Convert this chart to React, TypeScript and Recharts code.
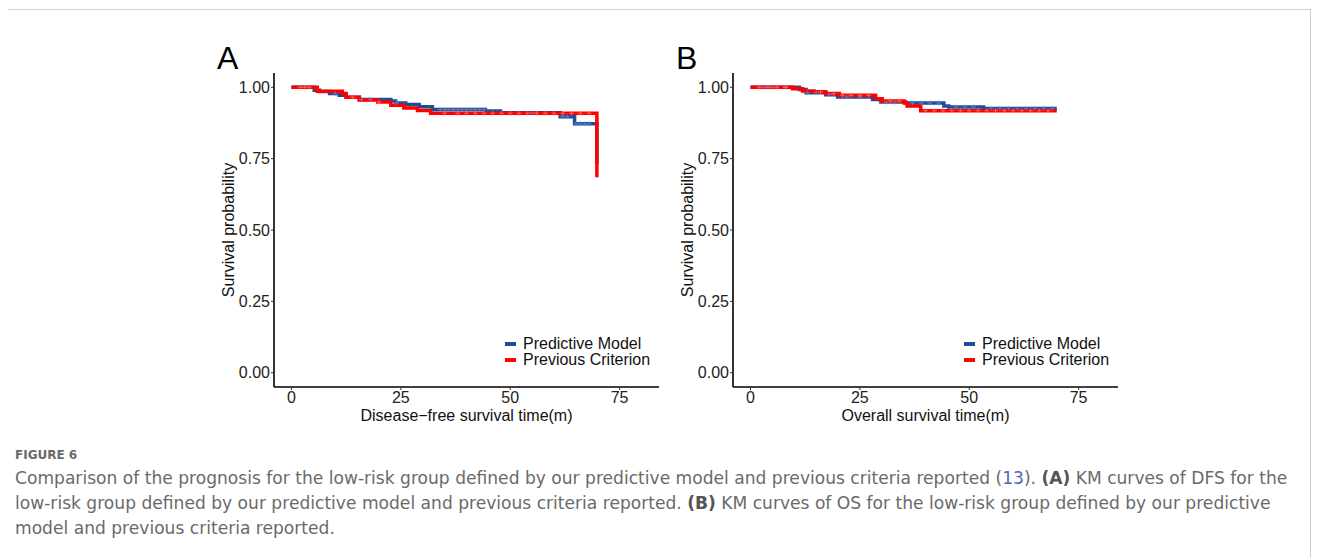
import React from 'react';
import { ComposedChart, Line, Scatter, XAxis, YAxis } from 'recharts';

// Panel A - disease-free survival (months, survival prob)
const dfsModelTime = [0, 5.2, 6.4, 8.7, 10.9, 12.5, 15.5, 22.7, 23.8, 26.1, 29.2, 32.2, 44.3, 47.8, 61.4, 64.7, 69.8];
const dfsModelSurv = [1.0, 0.99, 0.985, 0.978, 0.972, 0.965, 0.957, 0.952, 0.945, 0.94, 0.932, 0.922, 0.917, 0.911, 0.897, 0.872, 0.73];
const dfsPrevTime = [0, 5.9, 11.6, 12.5, 15.5, 19.7, 22.7, 25.7, 28.8, 31.8, 69.8];
const dfsPrevSurv = [1.0, 0.986, 0.978, 0.965, 0.955, 0.948, 0.937, 0.927, 0.919, 0.909, 0.685];
const dfsModelCensor = [10, 16, 18, 24, 34, 35, 36, 37, 38, 39, 40, 41, 42, 43, 44, 55, 62, 63, 65, 66, 67, 68];
const dfsPrevCensor = [2, 3, 4, 14, 20, 35, 38, 40, 42, 44, 46, 48, 50, 52, 54, 56, 58, 60, 62, 64, 66, 68];

// Panel B - overall survival
const osModelTime = [0, 11.2, 12.7, 17.2, 19.9, 27.9, 29.8, 35.5, 44.2, 45.3, 53.3, 70];
const osModelSurv = [1.0, 0.992, 0.981, 0.974, 0.966, 0.957, 0.948, 0.945, 0.934, 0.931, 0.926, 0.926];
const osPrevTime = [0, 9.6, 11.9, 14.5, 17.2, 20.3, 28.6, 30.1, 35.1, 35.8, 38.9, 70];
const osPrevSurv = [1.0, 0.995, 0.987, 0.984, 0.978, 0.972, 0.96, 0.952, 0.945, 0.934, 0.918, 0.918];
const osModelCensor = [3, 5, 8, 13, 15, 18, 22, 25, 31, 33, 37, 39, 41, 43, 47, 49, 51, 55, 57, 59, 61, 63, 65, 67, 69];
const osPrevCensor = [2, 4, 6, 8, 16, 19, 21, 23, 25, 27, 32, 34, 40, 42, 44, 46, 48, 50, 52, 54, 56, 58, 60, 62, 64, 66, 68];

const xTicks = [0, 25, 50, 75];
const yTicks = [0, 0.25, 0.5, 0.75, 1];
const seriesNames = ['Predictive Model', 'Previous Criterion'];
const BLUE = '#1B4F9B';
const RED = '#FF0000';
const FONT = '"Liberation Sans", Arial, sans-serif';

const toRows = (t: number[], s: number[]) => t.map((v, i) => ({ t: v, s: s[i] }));

const survAt = (t: number[], s: number[], x: number) => {
  let v = s[0];
  for (let i = 0; i < t.length; i++) if (t[i] <= x) v = s[i];
  return v;
};

const censorRows = (t: number[], s: number[], c: number[]) => c.map((x) => ({ t: x, s: survAt(t, s, x) }));

const Plus = (color: string) => (props: any) => {
  const { cx, cy } = props;
  if (cx == null || cy == null) return <g />;
  return (
    <g stroke={color} strokeWidth={1} opacity={0.7}>
      <line x1={cx - 2.5} x2={cx + 2.5} y1={cy} y2={cy} />
      <line x1={cx} x2={cx} y1={cy - 2.5} y2={cy + 2.5} />
    </g>
  );
};

const KmLegend = () => (
  <div style={{ position: 'absolute', left: 355, top: 296, fontFamily: FONT, fontSize: 16, lineHeight: '16px', color: '#111' }}>
    {seriesNames.map((n, i) => (
      <div key={n} style={{ display: 'flex', alignItems: 'center', whiteSpace: 'nowrap' }}>
        <span style={{ display: 'inline-block', width: 11, height: 4, background: i === 0 ? BLUE : RED, marginRight: 7 }} />
        {n}
      </div>
    ))}
  </div>
);

const yLabel = (props: any) => {
  const { viewBox } = props;
  const x = viewBox.x + viewBox.width - 46;
  const y = viewBox.y + viewBox.height / 2;
  return (
    <text x={x} y={y} transform={`rotate(-90 ${x} ${y})`} textAnchor="middle" dominantBaseline="central"
      fontFamily={FONT} fontSize={16} fill="#111">
      Survival probability
    </text>
  );
};

interface KmProps {
  left: number;
  letter: string;
  xTitle: string;
  mt: number[]; ms: number[]; mc: number[];
  pt: number[]; ps: number[]; pc: number[];
}

const KmPanel: React.FC<KmProps> = ({ left, letter, xTitle, mt, ms, mc, pt, ps, pc }) => (
  <div style={{ position: 'absolute', left, top: 32, width: 520, height: 400 }}>
    <div style={{ position: 'absolute', left: 67, top: 0, fontFamily: FONT, fontSize: 32, lineHeight: '36px', color: '#000' }}>
      {letter}
    </div>
    <ComposedChart width={520} height={400} margin={{ top: 33, right: 11, bottom: 3, left: 64 }}>
      <XAxis type="number" dataKey="t" domain={[-4, 84]} ticks={xTicks} allowDataOverflow
        tickSize={3} tickMargin={2} height={50}
        tick={{ fontFamily: FONT, fontSize: 16, fill: '#222' }}
        axisLine={{ stroke: '#000', strokeWidth: 1.6 }} tickLine={{ stroke: '#333' }}
        label={{ value: xTitle, position: 'insideBottom', offset: 16, fontFamily: FONT, fontSize: 16, fill: '#111' }} />
      <YAxis type="number" dataKey="s" domain={[-0.05, 1.05]} ticks={yTicks} allowDataOverflow
        tickFormatter={(v: number) => v.toFixed(2)} width={60}
        tickSize={3} tickMargin={1}
        tick={{ fontFamily: FONT, fontSize: 16, fill: '#222' }}
        axisLine={{ stroke: '#000', strokeWidth: 1.6 }} tickLine={{ stroke: '#333' }}
        label={{ content: yLabel }} />
      <Line data={toRows(mt, ms)} dataKey="s" type="stepAfter" stroke={BLUE} strokeWidth={3.5}
        dot={false} isAnimationActive={false} name={seriesNames[0]} />
      <Scatter data={censorRows(mt, ms, mc)} dataKey="s" shape={Plus('#6f93c9')} isAnimationActive={false} legendType="none" />
      <Line data={toRows(pt, ps)} dataKey="s" type="stepAfter" stroke={RED} strokeWidth={3.5}
        dot={false} isAnimationActive={false} name={seriesNames[1]} />
      <Scatter data={censorRows(pt, ps, pc)} dataKey="s" shape={Plus('#ff8080')} isAnimationActive={false} legendType="none" />
    </ComposedChart>
    <KmLegend />
  </div>
);

const captionLines = [
  'Comparison of the prognosis for the low-risk group defined by our predictive model and previous criteria reported (13). (A) KM curves of DFS for the',
  'low-risk group defined by our predictive model and previous criteria reported. (B) KM curves of OS for the low-risk group defined by our predictive',
  'model and previous criteria reported.',
];

const renderCaption = (line: string, i: number) => {
  const parts = line.split(/(\(A\)|\(B\)|\(13\))/);
  return (
    <div key={i} style={{ whiteSpace: 'nowrap' }}>
      {parts.map((p, j) => {
        if (p === '(A)' || p === '(B)') return <b key={j} style={{ color: '#555' }}>{p}</b>;
        if (p === '(13)') return <span key={j}>(<span style={{ color: '#5b5fb0' }}>13</span>)</span>;
        return <span key={j}>{p}</span>;
      })}
    </div>
  );
};

export default function App() {
  return (
    <div style={{ position: 'relative', width: 1303, height: 550, background: '#fff' }}>
      <div style={{ position: 'absolute', left: -2, top: 1, width: 1303, height: 560, borderTop: '1px solid #cfcfcf', borderLeft: '1px solid #cfcfcf', borderRight: '1px solid #cfcfcf' }} />
      <KmPanel left={142} letter="A" xTitle="Disease−free survival time(m)"
        mt={dfsModelTime} ms={dfsModelSurv} mc={dfsModelCensor}
        pt={dfsPrevTime} ps={dfsPrevSurv} pc={dfsPrevCensor} />
      <KmPanel left={601} letter="B" xTitle="Overall survival time(m)"
        mt={osModelTime} ms={osModelSurv} mc={osModelCensor}
        pt={osPrevTime} ps={osPrevSurv} pc={osPrevCensor} />
      <div style={{ position: 'absolute', left: 7, top: 439, fontFamily: '"DejaVu Sans", sans-serif', color: '#6a6a6a' }}>
        <div style={{ fontSize: 12, fontWeight: 600, lineHeight: '16px', marginBottom: 3 }}>FIGURE 6</div>
        <div style={{ fontSize: 17.1, lineHeight: '25px' }}>
          {captionLines.map(renderCaption)}
        </div>
      </div>
    </div>
  );
}
